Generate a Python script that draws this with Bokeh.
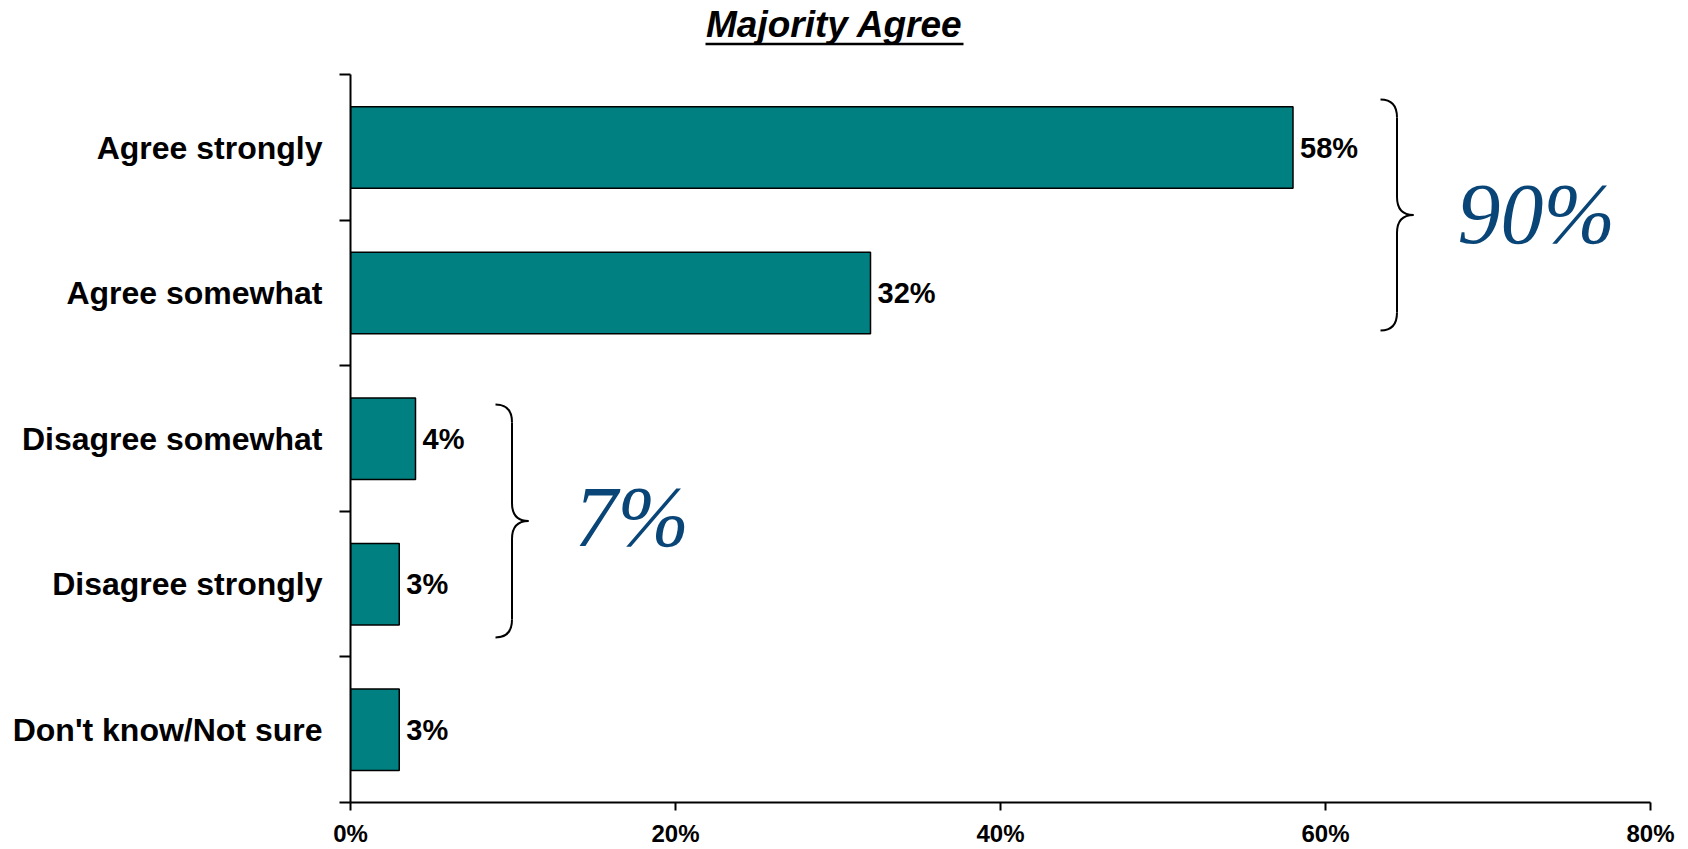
from bokeh.plotting import figure
from bokeh.models import Range1d, FixedTicker, PrintfTickFormatter, CustomJSTickFormatter
from bokeh.core.properties import value
from bokeh.embed import file_html
from bokeh.resources import INLINE

# ---- data ----
categories = ["Agree strongly", "Agree somewhat", "Disagree somewhat", "Disagree strongly", "Don't know/Not sure"]
values = [58, 32, 4, 3, 3]
x_ticks = [0, 20, 40, 60, 80]
title_text = "Majority Agree"
# groups summarised with a brace (indices into categories)
brace_groups = [[0, 1], [2, 3]]

# ---- layout constants ----
n = len(categories)
ypos = [n - i - 0.5 for i in range(n)]
labels = [f"{v}%" for v in values]
PX_Y = 145.54          # pixels per category band
TOP_PAD_PX = 74.3      # space above the axis top inside the frame
y_end = n + TOP_PAD_PX / PX_Y
FRAME_L, FRAME_R, FRAME_B = 350, 1650, 802

p = figure(width=1688, height=849, output_backend="svg", toolbar_location=None,
           x_range=Range1d(0, 80), y_range=Range1d(0, y_end),
           min_border_left=FRAME_L, min_border_right=1688 - FRAME_R,
           min_border_top=0, min_border_bottom=849 - FRAME_B)
p.outline_line_color = None
p.xgrid.visible = False
p.ygrid.visible = False
p.background_fill_color = "white"
p.border_fill_color = "white"

FONT = value("Liberation Sans")


def px_to_x(px):
    return (px - FRAME_L) / (FRAME_R - FRAME_L) * 80


def px_to_y(py):
    return (FRAME_B - py) / PX_Y


# bars
src = dict(y=ypos, v=values, lbl=labels)
p.hbar(y="y", right="v", left=0, height=0.56, source=src,
       fill_color="#008080", line_color="black", line_width=1.5)
p.text(x="v", y="y", text="lbl", source=src, x_offset=7,
       text_align="left", text_baseline="middle", text_font=FONT,
       text_font_size="29px", text_font_style="bold", text_color="black")

# x axis
xa = p.xaxis[0]
xa.ticker = FixedTicker(ticks=x_ticks)
xa.formatter = PrintfTickFormatter(format="%d%%")
xa.bounds = (x_ticks[0], x_ticks[-1])
xa.axis_line_width = 2
xa.axis_line_color = "black"
xa.major_tick_in = 0
xa.major_tick_out = 8
xa.major_tick_line_width = 2
xa.minor_tick_line_color = None
xa.major_label_standoff = 9
xa.major_label_text_font = "Liberation Sans"
xa.major_label_text_font_size = "24px"
xa.major_label_text_font_style = "bold"
xa.major_label_text_color = "black"

# y axis: labels at band centres, tick marks at band boundaries
ya = p.yaxis[0]
ya.ticker = FixedTicker(ticks=ypos, minor_ticks=list(range(n + 1)))
ya.formatter = CustomJSTickFormatter(args=dict(cats=categories, n=n),
                                     code="return cats[n - 1 - Math.floor(tick)];")
ya.bounds = (0, n)
ya.axis_line_width = 2
ya.axis_line_color = "black"
ya.major_tick_in = 0
ya.major_tick_out = 0
ya.major_tick_line_color = None
ya.minor_tick_in = 0
ya.minor_tick_out = 11
ya.minor_tick_line_width = 2
ya.minor_tick_line_color = "black"
ya.major_label_standoff = 17
ya.major_label_text_font = "Liberation Sans"
ya.major_label_text_font_size = "32px"
ya.major_label_text_font_style = "bold"
ya.major_label_text_color = "black"

# title (underlined), drawn inside the frame area above the axis
title_x = px_to_x(834)
p.text(x=[title_x], y=[px_to_y(24)], text=[title_text], text_align="center",
       text_baseline="middle", text_font=FONT, text_font_size="37px",
       text_font_style="bold italic", text_color="black")
half_w = 129 / (FRAME_R - FRAME_L) * 80
ul_y = px_to_y(43.5)
p.segment(x0=[title_x - half_w], y0=[ul_y], x1=[title_x + half_w], y1=[ul_y],
          line_color="black", line_width=2.5)

# braces with group totals
brace_x = [px_to_x(1380), px_to_x(495)]              # left tips of braces
brace_y = [(px_to_y(330), px_to_y(99)), (px_to_y(637), px_to_y(404))]
brace_text_x = [px_to_x(1457), px_to_x(574)]
brace_text_y = [px_to_y(213), px_to_y(516)]
BR_W = 33 / (FRAME_R - FRAME_L) * 80                  # brace depth
RY = 18 / PX_Y
BLUE = "#0a4577"
for g, xl, (y0, y1), tx, ty in zip(brace_groups, brace_x, brace_y, brace_text_x, brace_text_y):
    xm = xl + BR_W / 2
    xr = xl + BR_W
    ym = (y0 + y1) / 2
    p.quadratic(x0=[xl, xm, xr, xm], y0=[y1, ym + RY, ym, y0 + RY],
                x1=[xm, xr, xm, xl], y1=[y1 - RY, ym, ym - RY, y0],
                cx=[xm, xm, xm, xm], cy=[y1, ym, ym, y0],
                line_color="black", line_width=2)
    p.segment(x0=[xm, xm], y0=[y1 - RY, ym - RY], x1=[xm, xm], y1=[ym + RY, y0 + RY],
              line_color="black", line_width=2)
    total = sum(values[i] for i in g)
    p.text(x=[tx], y=[ty], text=[f"{total}%"], text_align="left",
           text_baseline="middle", text_font=value("Liberation Serif"),
           text_font_size="86px", text_font_style="italic", text_color=BLUE)

open("out.html", "w").write(file_html(p, INLINE))
